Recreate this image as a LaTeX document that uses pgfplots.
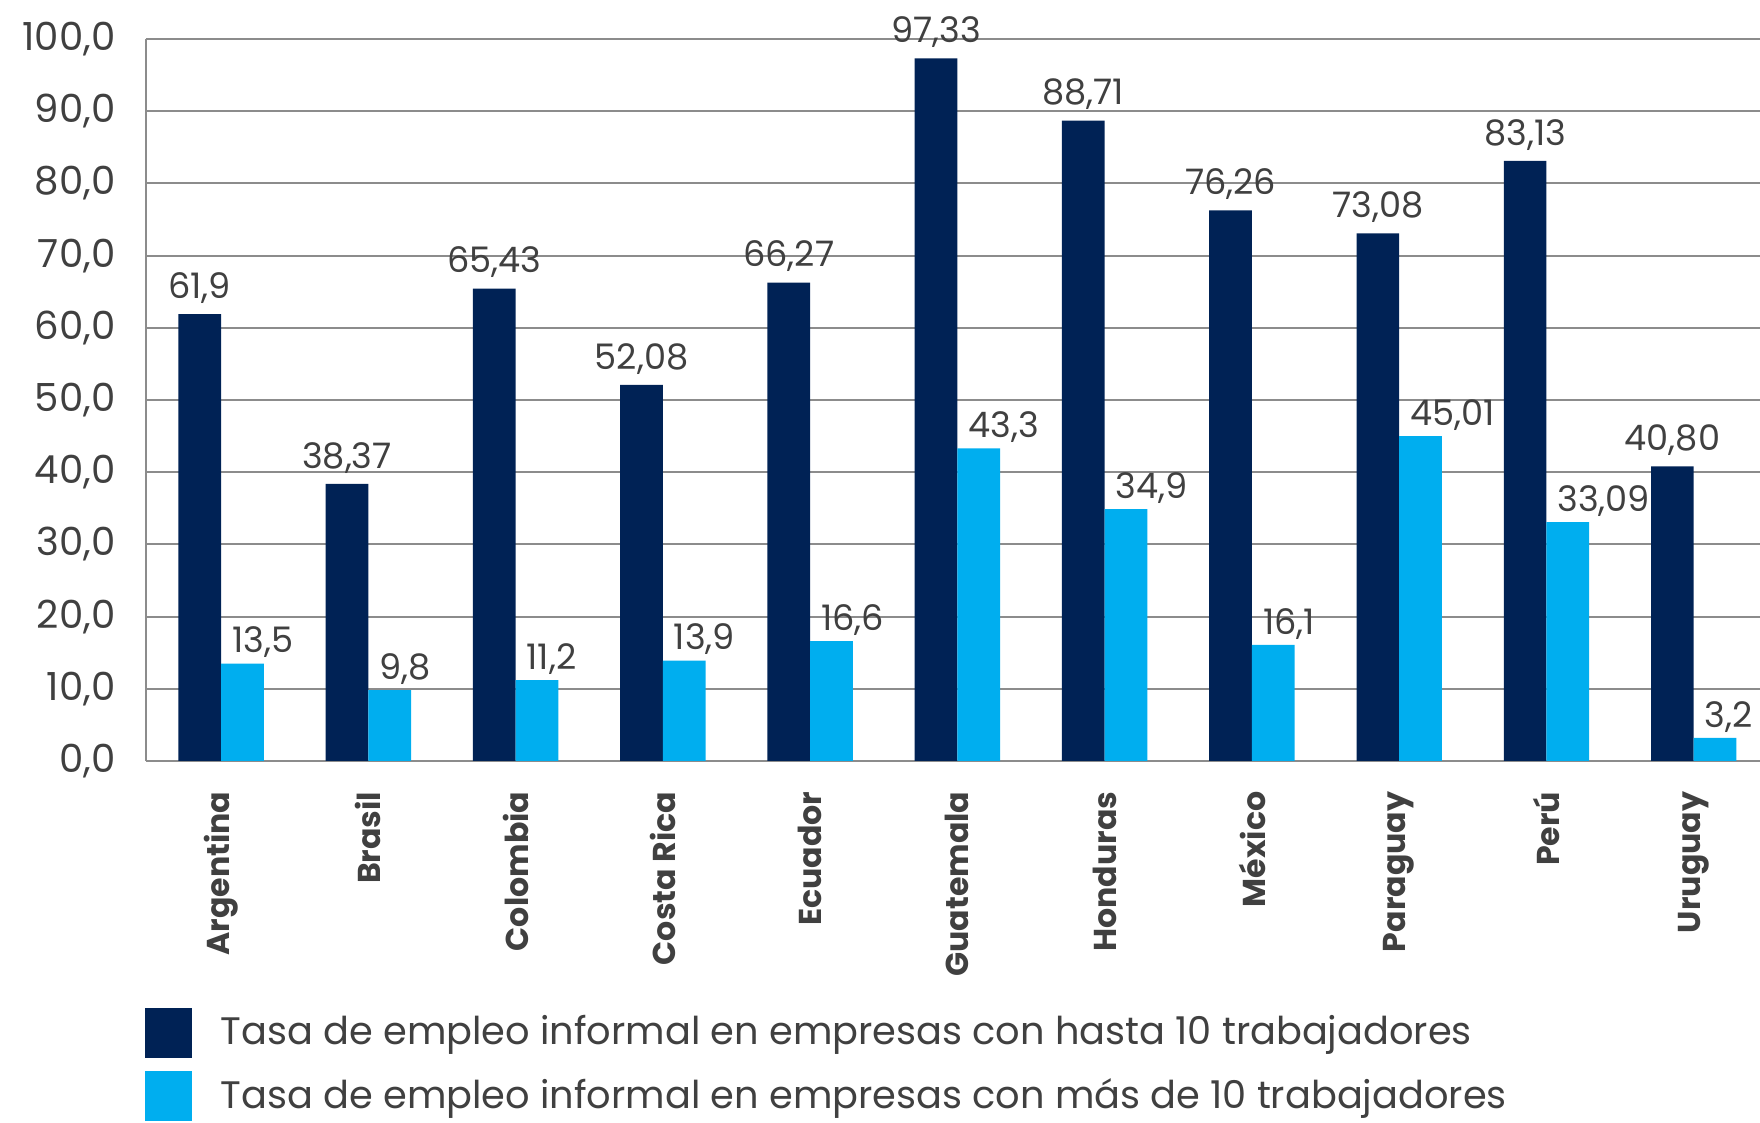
\documentclass[border=0pt]{standalone}
\usepackage{fontspec}
\setmainfont{Poppins}
\usepackage{pgfplots}
\pgfplotsset{compat=1.18}
\usepackage{pgfplotstable}
\definecolor{navy}{HTML}{002255}
\definecolor{sky}{HTML}{00AEEF}
\definecolor{txt}{HTML}{404040}
\definecolor{gridc}{HTML}{8C8C8C}

\pgfplotstableread{
x d dl l ll
0 61.90 61,9 13.5 13,5
1 38.37 38,37 9.8 9,8
2 65.43 65,43 11.2 11,2
3 52.08 52,08 13.9 13,9
4 66.27 66,27 16.6 16,6
5 97.33 97,33 43.3 43,3
6 88.71 88,71 34.9 34,9
7 76.26 76,26 16.1 16,1
8 73.08 73,08 45.01 45,01
9 83.13 83,13 33.09 33,09
10 40.80 40,80 3.2 3,2
}\data

\begin{document}
\begin{tikzpicture}
\begin{axis}[
  at={(0,0)}, anchor=south west,
  scale only axis, width=16.14cm, height=7.22cm,
  ymin=0, ymax=100, ytick={0,10,...,100},
  xmin=-0.51, xmax=10.45,
  xtick={0,...,10},
  xticklabels={Argentina,Brasil,Colombia,Costa Rica,Ecuador,Guatemala,Honduras,México,Paraguay,Perú,Uruguay},
  x tick label style={yshift=-0.3cm, rotate=90, anchor=east, font=\fontsize{9}{10}\selectfont\bfseries, text=txt, inner sep=0pt},
  y tick label style={font=\fontsize{11}{13}\selectfont, text=txt, inner sep=0pt, xshift=-0.3cm},
  /pgf/number format/.cd, fixed, fixed zerofill, precision=1, use comma, assume math mode=true,
  /pgfplots/.cd,
  ymajorgrids, grid style={draw=gridc, line width=0.6pt},
  axis x line*=bottom, axis y line*=left,
  axis line style={draw=gridc, line width=0.6pt},
  major tick length=0pt,
  ybar=0pt, bar width=0.29,
  legend style={at={(-0.0012,-0.3407)}, anchor=north west, draw=none, fill=none,
    inner sep=0pt, row sep=0.13cm, column sep=0.29cm,
    font=\fontsize{10.9}{13}\selectfont, text=txt, nodes={inner sep=0pt}},
  legend cell align=left,
  legend image code/.code={\fill[#1] (0cm,-0.25cm) rectangle (0.47cm,0.25cm);},
]
\addplot[fill=navy, draw=none, nodes near coords, point meta=explicit symbolic,
  every node near coord/.append style={font=\fontsize{10}{12}\selectfont, text=txt, anchor=south, inner sep=0pt, yshift=0.10cm}]
  table[x=x, y=d, meta=dl]{\data};
\addlegendentry{Tasa de empleo informal en empresas con hasta 10 trabajadores}
\addplot[fill=sky, draw=none, nodes near coords, point meta=explicit symbolic,
  every node near coord/.append style={font=\fontsize{10}{12}\selectfont, text=txt, anchor=south west, inner sep=0pt, yshift=0.05cm, xshift=-0.11cm}]
  table[x=x, y=l, meta=ll]{\data};
\addlegendentry{Tasa de empleo informal en empresas con más de 10 trabajadores}
\end{axis}
\pgfresetboundingbox
\useasboundingbox (-1.46,-3.62) rectangle (16.14,7.61);
\end{tikzpicture}
\end{document}
